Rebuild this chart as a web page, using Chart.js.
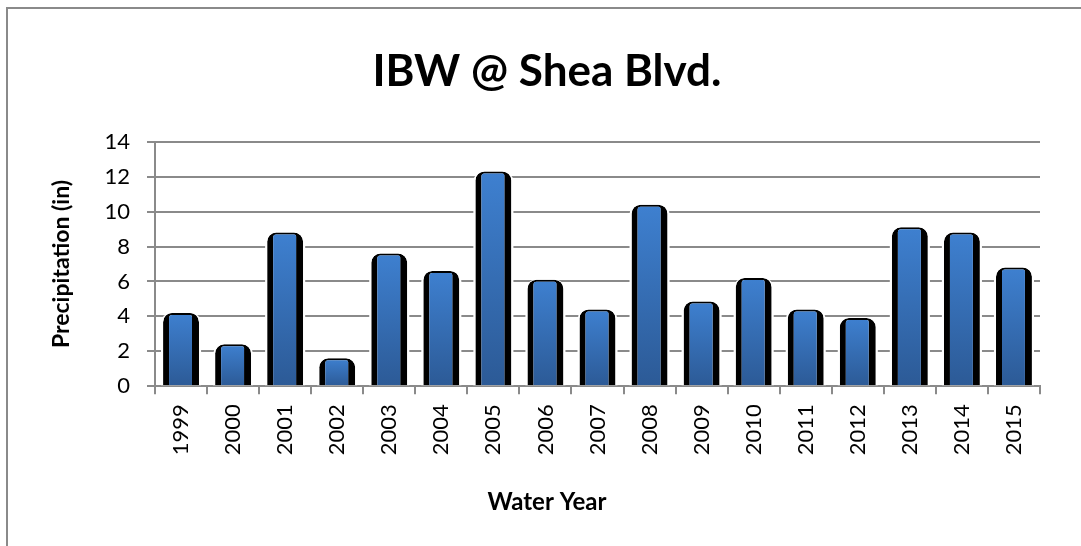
<!DOCTYPE html>
<html>
<head>
<meta charset="utf-8">
<title>IBW @ Shea Blvd.</title>
<script src="https://cdn.jsdelivr.net/npm/chart.js@4.4.1/dist/chart.umd.min.js"></script>
<style>
  html, body { margin: 0; padding: 0; background: #fff; overflow: hidden; }
  #frame {
    position: absolute; left: 6px; top: 7px;
    width: 2000px; height: 1000px;
    border: 2px solid #8a8a8a;
  }
  #wrap { position: absolute; left: 0; top: 0; width: 1081px; height: 546px; }
</style>
</head>
<body>
<div id="frame"></div>
<div id="wrap"><canvas id="chart"></canvas></div>
<script>
// water years and precipitation (in)
const years = ['1999', '2000', '2001', '2002', '2003', '2004', '2005', '2006', '2007',
               '2008', '2009', '2010', '2011', '2012', '2013', '2014', '2015'];
const precipitation = [4.2, 2.4, 8.8, 1.6, 7.6, 6.6, 12.3, 6.1, 4.4,
                       10.4, 4.85, 6.2, 4.4, 3.9, 9.1, 8.8, 6.8];
const yMin = 0;
const yMax = 14;
const yStep = 2;

const gridGray = '#8a8a8a';
const fontFamily = 'Lato, "Open Sans", sans-serif';

// light blue at the top of each bar, darker at the foot
function barGradient(context) {
  const chart = context.chart;
  const y = chart.scales.y;
  if (!chart.chartArea || !y) return '#3a78c4';
  const top = y.getPixelForValue(context.raw);
  const bottom = y.getPixelForValue(0);
  const g = chart.ctx.createLinearGradient(0, top, 0, bottom);
  g.addColorStop(0, '#3e80d0');
  g.addColorStop(1, '#2c5a96');
  return g;
}

const ctx = document.getElementById('chart');

new Chart(ctx, {
  type: 'bar',
  data: {
    labels: years,
    datasets: [{
      label: 'Precipitation (in)',
      data: precipitation,
      backgroundColor: barGradient,
      borderColor: '#000000',
      borderWidth: { left: 6, right: 7, top: 2, bottom: 0 },
      borderRadius: { topLeft: 9, topRight: 9, bottomLeft: 0, bottomRight: 0 },
      borderSkipped: 'start',
      barPercentage: 0.69,
      categoryPercentage: 1,
      grouped: false,
      order: 1
    }, {
      // thin white glow behind each bar, breaks the gridlines like the original
      label: '',
      data: precipitation,
      backgroundColor: '#ffffff',
      borderWidth: 0,
      borderRadius: { topLeft: 10, topRight: 10, bottomLeft: 0, bottomRight: 0 },
      barPercentage: 0.77,
      categoryPercentage: 1,
      grouped: false,
      order: 2
    }]
  },
  options: {
    responsive: true,
    maintainAspectRatio: false,
    animation: false,
    // uneven padding: the titles sit centred on the whole (cut off) chart box
    layout: { padding: { left: 54, right: 41, top: 0, bottom: 0 } },
    plugins: {
      legend: { display: false },
      tooltip: { enabled: false },
      title: {
        display: true,
        text: 'IBW @ Shea Blvd.',
        color: '#000000',
        font: { family: fontFamily, size: 44, weight: 'bold', lineHeight: 1.2 },
        padding: { top: 45, bottom: 44 }
      },
      subtitle: {
        display: true,
        position: 'bottom',
        text: 'Water Year',
        color: '#000000',
        font: { family: fontFamily, size: 24, weight: 'bold', lineHeight: 1.2 },
        padding: { top: 10, bottom: 29 }
      }
    },
    scales: {
      x: {
        grid: {
          display: true,
          drawOnChartArea: false,
          drawTicks: true,
          tickLength: 8,
          offset: true,
          color: gridGray,
          lineWidth: 2
        },
        border: { display: true, color: gridGray, width: 2 },
        ticks: {
          autoSkip: false,
          maxRotation: 90,
          minRotation: 90,
          padding: 10,
          color: '#000000',
          font: { family: fontFamily, size: 22 }
        },
        afterFit: (scale) => { scale.height = 92; }
      },
      y: {
        min: yMin,
        max: yMax,
        ticks: {
          stepSize: yStep,
          padding: 17,
          color: '#000000',
          font: { family: fontFamily, size: 22 }
        },
        grid: {
          color: gridGray,
          lineWidth: 2,
          drawTicks: true,
          tickLength: 8
        },
        border: { display: true, color: gridGray, width: 2 },
        title: {
          display: true,
          text: 'Precipitation (in)',
          color: '#000000',
          font: { family: fontFamily, size: 23, weight: 'bold', lineHeight: 1.2 },
          padding: { top: -6, bottom: 0 }
        },
        afterFit: (scale) => { scale.width = 101; }
      }
    }
  }
});
</script>
</body>
</html>
